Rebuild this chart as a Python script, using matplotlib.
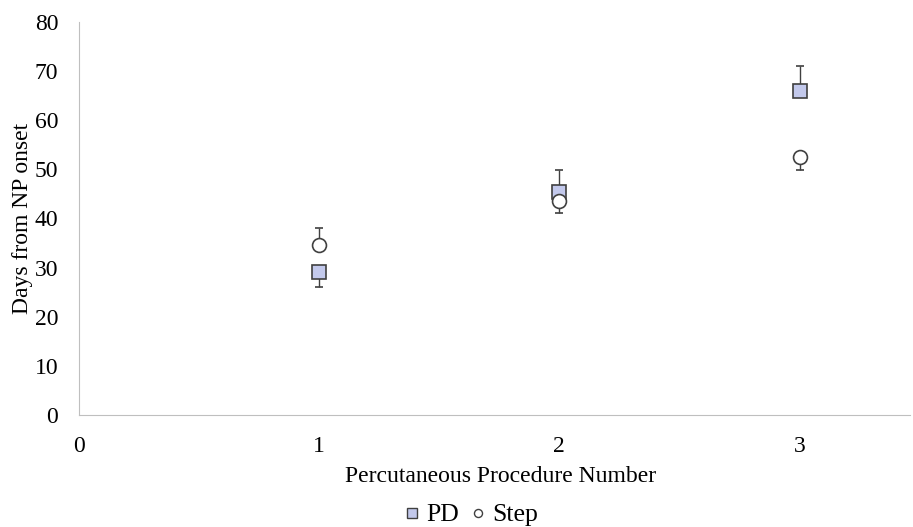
import numpy as np
import matplotlib.pyplot as plt
from matplotlib.lines import Line2D

procedure = [1, 2, 3]
pd_days = [29.1, 45.4, 66.0]
step_days = [34.6, 43.6, 52.5]
# one-sided error bars (lower, upper)
pd_err_lo = [3.0, 0, 0]
pd_err_hi = [0, 4.5, 5.0]
step_err_lo = [0, 2.5, 2.6]
step_err_hi = [3.5, 0, 0]

plt.rcParams['font.family'] = ['Liberation Serif', 'DejaVu Serif']

fig = plt.figure(figsize=(9.13, 5.27), dpi=100)
ax = fig.add_axes([79/913, 112/527, 831/913, 393/527])

ax.errorbar(procedure, pd_days, yerr=[pd_err_lo, pd_err_hi], fmt='s',
            markersize=10, markerfacecolor='#c3c9ec', markeredgecolor='#404040',
            markeredgewidth=1.2, ecolor='#404040', elinewidth=1, capsize=3,
            label='PD', zorder=3)
ax.errorbar(procedure, step_days, yerr=[step_err_lo, step_err_hi], fmt='o',
            markersize=10, markerfacecolor='white', markeredgecolor='#404040',
            markeredgewidth=1.2, ecolor='#404040', elinewidth=1, capsize=3,
            label='Step', zorder=4)

ax.set_xlim(0, 3.46)
ax.set_ylim(0, 80)
ax.set_xticks([0, 1, 2, 3])
ax.set_yticks(range(0, 81, 10))
ax.tick_params(length=0, labelsize=17, colors='black')
ax.tick_params(axis='x', pad=15)
ax.tick_params(axis='y', pad=15)
for s in ['top', 'right']:
    ax.spines[s].set_visible(False)
for s in ['left', 'bottom']:
    ax.spines[s].set_color('#bfbfbf')
ax.set_ylabel('Days from NP onset', fontsize=17, labelpad=1)
fig.text(501/913, 1 - 476/527, 'Percutaneous Procedure Number', fontsize=17,
         ha='center', va='center')

# legend proxies (square a bit bigger than circle, like the original)
h_pd = Line2D([], [], linestyle='none', marker='s', markersize=7.2,
              markerfacecolor='#c3c9ec', markeredgecolor='#404040', markeredgewidth=1)
h_step = Line2D([], [], linestyle='none', marker='o', markersize=5.8,
                markerfacecolor='white', markeredgecolor='#404040', markeredgewidth=1)
fig.legend([h_pd, h_step], ['PD', 'Step'], loc='center',
           bbox_to_anchor=(472/913, 1 - 515/527), ncol=2, frameon=False,
           fontsize=18.5, handlelength=0.5, handletextpad=0.3,
           columnspacing=0.5, borderpad=0)

fig.savefig('out.png', dpi=100)
